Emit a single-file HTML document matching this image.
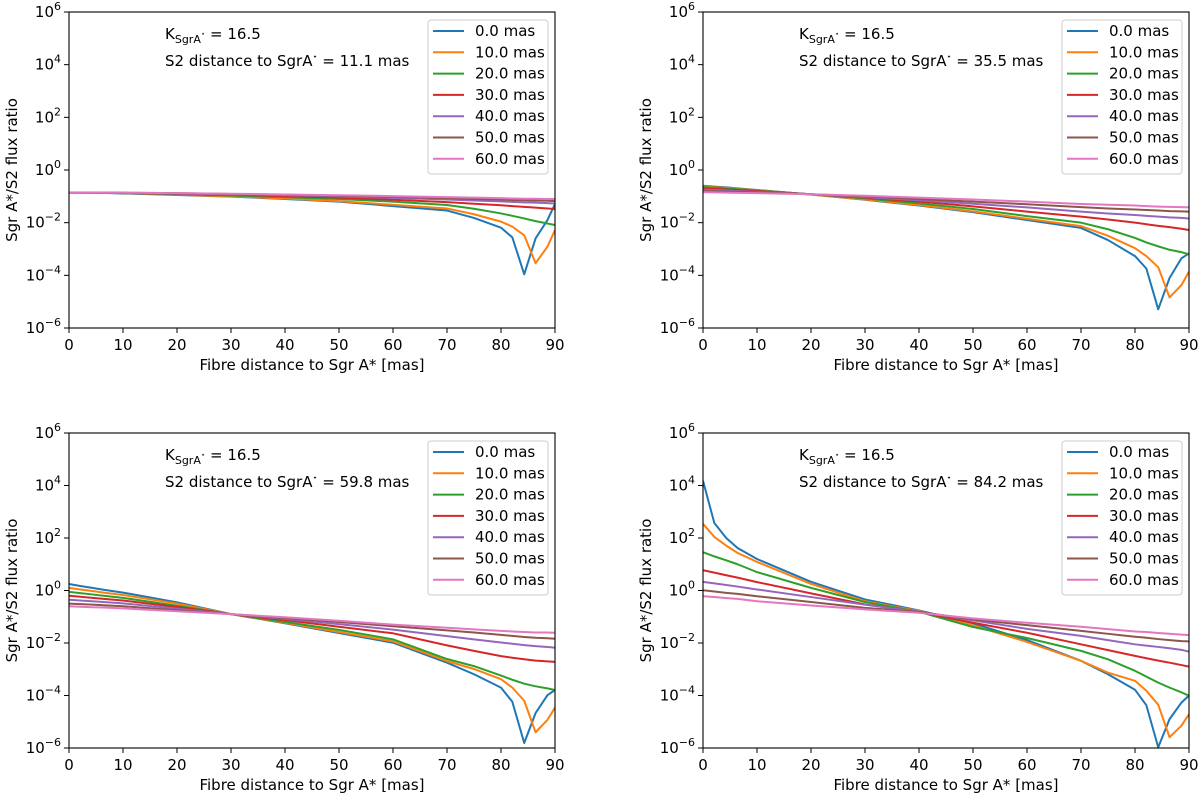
<!DOCTYPE html>
<html><head><meta charset="utf-8"><style>
body{margin:0;background:#fff;}
svg{display:block;font-family:"DejaVu Sans","Liberation Sans",sans-serif;}
</style></head><body>
<svg id="fig" width="1200" height="796" viewBox="0 0 1200 796" xmlns="http://www.w3.org/2000/svg"></svg>
<script>
const fibreDistance = [0,2.1,4.3,6.4,10,20,30,40,50,60,70,75,80,82.1,84.3,86.4,88.6,90];
const seriesLabels = ["0.0 mas","10.0 mas","20.0 mas","30.0 mas","40.0 mas","50.0 mas","60.0 mas"];
const s2Distances = ["11.1","35.5","59.8","84.2"];
const xTicks = [0,10,20,30,40,50,60,70,80,90];
const yTickExps = [6,4,2,0,-2,-4,-6];
// log10 of flux ratio, panel 1 (S2 at 11.1 mas)
const p1_s0 = [-0.86,-0.86,-0.87,-0.87,-0.89,-0.95,-1.01,-1.1,-1.2,-1.37,-1.54,-1.82,-2.19,-2.56,-3.96,-2.6,-1.9,-1.29];
const p1_s1 = [-0.86,-0.86,-0.87,-0.87,-0.88,-0.94,-1.0,-1.08,-1.18,-1.32,-1.46,-1.68,-1.96,-2.15,-2.48,-3.54,-2.91,-2.28];
const p1_s2 = [-0.86,-0.86,-0.86,-0.87,-0.88,-0.92,-0.97,-1.03,-1.1,-1.2,-1.33,-1.47,-1.65,-1.74,-1.84,-1.94,-2.03,-2.09];
const p1_s3 = [-0.86,-0.86,-0.86,-0.86,-0.87,-0.9,-0.94,-0.99,-1.05,-1.13,-1.22,-1.28,-1.34,-1.37,-1.4,-1.43,-1.46,-1.48];
const p1_s4 = [-0.86,-0.86,-0.86,-0.86,-0.87,-0.89,-0.92,-0.96,-1.0,-1.06,-1.12,-1.16,-1.19,-1.21,-1.23,-1.24,-1.26,-1.27];
const p1_s5 = [-0.86,-0.86,-0.86,-0.86,-0.86,-0.88,-0.91,-0.94,-0.98,-1.02,-1.07,-1.1,-1.12,-1.14,-1.15,-1.16,-1.17,-1.18];
const p1_s6 = [-0.86,-0.86,-0.86,-0.86,-0.86,-0.88,-0.9,-0.93,-0.96,-0.99,-1.03,-1.05,-1.07,-1.08,-1.09,-1.09,-1.1,-1.1];
// panel 2 (35.5 mas)
const p2_s0 = [-0.6,-0.63,-0.66,-0.7,-0.76,-0.93,-1.13,-1.35,-1.6,-1.9,-2.2,-2.66,-3.27,-3.74,-5.29,-4.1,-3.35,-3.17];
const p2_s1 = [-0.62,-0.65,-0.68,-0.71,-0.77,-0.93,-1.12,-1.33,-1.57,-1.85,-2.13,-2.5,-2.97,-3.27,-3.69,-4.84,-4.37,-3.86];
const p2_s2 = [-0.65,-0.67,-0.7,-0.73,-0.78,-0.92,-1.08,-1.27,-1.48,-1.75,-2.0,-2.25,-2.58,-2.75,-2.9,-3.03,-3.12,-3.2];
const p2_s3 = [-0.7,-0.72,-0.74,-0.76,-0.8,-0.92,-1.05,-1.2,-1.38,-1.58,-1.77,-1.88,-2.0,-2.06,-2.12,-2.17,-2.23,-2.28];
const p2_s4 = [-0.75,-0.76,-0.78,-0.8,-0.83,-0.92,-1.03,-1.15,-1.28,-1.42,-1.58,-1.65,-1.71,-1.74,-1.77,-1.8,-1.82,-1.84];
const p2_s5 = [-0.8,-0.81,-0.82,-0.83,-0.85,-0.92,-1.0,-1.1,-1.2,-1.3,-1.41,-1.46,-1.5,-1.52,-1.54,-1.56,-1.57,-1.58];
const p2_s6 = [-0.84,-0.85,-0.86,-0.87,-0.88,-0.92,-0.98,-1.05,-1.12,-1.2,-1.29,-1.32,-1.35,-1.37,-1.39,-1.4,-1.41,-1.42];
// panel 3 (59.8 mas)
const p3_s0 = [0.25,0.17,0.1,0.03,-0.08,-0.45,-0.9,-1.25,-1.62,-1.99,-2.75,-3.19,-3.7,-4.24,-5.81,-4.67,-3.99,-3.79];
const p3_s1 = [0.1,0.04,-0.02,-0.08,-0.17,-0.5,-0.9,-1.23,-1.58,-1.94,-2.69,-2.99,-3.38,-3.7,-4.2,-5.4,-4.93,-4.46];
const p3_s2 = [-0.05,-0.1,-0.15,-0.2,-0.28,-0.58,-0.9,-1.2,-1.5,-1.86,-2.61,-2.88,-3.24,-3.4,-3.55,-3.65,-3.73,-3.79];
const p3_s3 = [-0.2,-0.24,-0.28,-0.32,-0.38,-0.63,-0.9,-1.13,-1.38,-1.63,-2.09,-2.3,-2.5,-2.56,-2.62,-2.67,-2.7,-2.72];
const p3_s4 = [-0.35,-0.38,-0.41,-0.44,-0.49,-0.69,-0.9,-1.08,-1.28,-1.49,-1.74,-1.86,-1.98,-2.03,-2.08,-2.12,-2.15,-2.18];
const p3_s5 = [-0.5,-0.52,-0.54,-0.56,-0.6,-0.75,-0.9,-1.05,-1.2,-1.36,-1.52,-1.6,-1.69,-1.73,-1.77,-1.8,-1.82,-1.84];
const p3_s6 = [-0.6,-0.62,-0.64,-0.65,-0.68,-0.79,-0.9,-1.02,-1.15,-1.3,-1.42,-1.48,-1.54,-1.56,-1.58,-1.6,-1.6,-1.61];
// panel 4 (84.2 mas)
const p4_s0 = [4.18,2.57,2.0,1.62,1.2,0.33,-0.34,-0.76,-1.25,-1.89,-2.68,-3.19,-3.78,-4.37,-5.97,-4.9,-4.27,-4.0];
const p4_s1 = [2.54,2.04,1.71,1.43,1.09,0.25,-0.41,-0.78,-1.33,-1.96,-2.68,-3.13,-3.44,-3.82,-4.35,-5.59,-5.15,-4.71];
const p4_s2 = [1.46,1.3,1.15,1.0,0.7,0.1,-0.44,-0.81,-1.39,-1.81,-2.3,-2.62,-3.06,-3.28,-3.51,-3.7,-3.88,-4.01];
const p4_s3 = [0.77,0.68,0.58,0.49,0.32,-0.11,-0.53,-0.82,-1.23,-1.61,-2.05,-2.27,-2.49,-2.58,-2.67,-2.75,-2.84,-2.9];
const p4_s4 = [0.33,0.27,0.21,0.15,0.04,-0.25,-0.54,-0.81,-1.14,-1.46,-1.73,-1.89,-2.05,-2.1,-2.15,-2.2,-2.26,-2.33];
const p4_s5 = [0.01,-0.04,-0.09,-0.13,-0.22,-0.44,-0.66,-0.82,-1.1,-1.32,-1.54,-1.65,-1.76,-1.8,-1.85,-1.89,-1.93,-1.94];
const p4_s6 = [-0.22,-0.25,-0.29,-0.32,-0.41,-0.57,-0.72,-0.85,-1.06,-1.23,-1.38,-1.47,-1.56,-1.58,-1.62,-1.65,-1.68,-1.7];

const panelSeries = [
 [p1_s0,p1_s1,p1_s2,p1_s3,p1_s4,p1_s5,p1_s6],
 [p2_s0,p2_s1,p2_s2,p2_s3,p2_s4,p2_s5,p2_s6],
 [p3_s0,p3_s1,p3_s2,p3_s3,p3_s4,p3_s5,p3_s6],
 [p4_s0,p4_s1,p4_s2,p4_s3,p4_s4,p4_s5,p4_s6]];
const colors = ["#1f77b4","#ff7f0e","#2ca02c","#d62728","#9467bd","#8c564b","#e377c2"];
const boxes = [{x0:69,x1:555,y0:12,y1:328},{x0:703,x1:1189,y0:12,y1:328},{x0:69,x1:555,y0:433,y1:748},{x0:703,x1:1189,y0:433,y1:748}];
const NS="http://www.w3.org/2000/svg";
const svg=document.getElementById('fig');
function mk(tag,attrs,parent){const e=document.createElementNS(NS,tag);for(const k in attrs)e.setAttribute(k,attrs[k]);(parent||svg).appendChild(e);return e;}

boxes.forEach((b,pi)=>{
  const g=mk('g',{});
  
  
  const xs=v=>b.x0+(v/90)*(b.x1-b.x0);
  const ys=v=>{const L=Math.log10(v);return b.y0+(6-L)/12*(b.y1-b.y0);};
  const clip=mk('clipPath',{id:'clip'+pi},g);
  mk('rect',{x:b.x0,y:b.y0,width:b.x1-b.x0,height:b.y1-b.y0},clip);
  panelSeries[pi].forEach((arr,si)=>{
    const d=arr.map((L,i)=>(i?'L':'M')+xs(fibreDistance[i]).toFixed(2)+' '+ys(Math.pow(10,L)).toFixed(2)).join(' ');
    const p=mk('path',{d:d,fill:'none',stroke:colors[si],'stroke-width':2,'stroke-linejoin':'round','clip-path':'url(#clip'+pi+')'},g);
    
    
  });
  const fr=mk('rect',{x:b.x0,y:b.y0,width:b.x1-b.x0,height:b.y1-b.y0,fill:'none',stroke:'#000','stroke-width':1.1},g);
  
  
  xTicks.forEach(t=>{
    const x=xs(t);
    mk('line',{x1:x,x2:x,y1:b.y1,y2:b.y1+5,stroke:'#000','stroke-width':1},g);
    const tx=mk('text',{x:x,y:b.y1+22,'font-size':15,'text-anchor':'middle',fill:'#000'},g);
    tx.textContent=t;
    
    
  });
  yTickExps.forEach(e=>{
    const y=ys(Math.pow(10,e));
    mk('line',{x1:b.x0-5,x2:b.x0,y1:y,y2:y,stroke:'#000','stroke-width':1},g);
    const tx=mk('text',{x:b.x0-8,y:y+5,'font-size':15,'text-anchor':'end',fill:'#000'},g);
    const t1=mk('tspan',{},tx);t1.textContent='10';
    const t2=mk('tspan',{'font-size':11,dy:-7},tx);t2.textContent=(e<0?'\u2212':'')+Math.abs(e);
    
    
  });
  const xl=mk('text',{x:(b.x0+b.x1)/2,y:b.y1+42,'font-size':15,'text-anchor':'middle',fill:'#000'},g);
  xl.textContent='Fibre distance to Sgr A* [mas]';
  
  
  const yx=b.x0-52, yc=(b.y0+b.y1)/2;
  const yl=mk('text',{x:yx,y:yc,'font-size':15,'text-anchor':'middle',fill:'#000',transform:'rotate(-90 '+yx+' '+yc+')'},g);
  yl.textContent='Sgr A*/S2 flux ratio';
  
  
  const a1=mk('text',{x:b.x0+96,y:b.y0+27,'font-size':15,fill:'#000'},g);
  const k1=mk('tspan',{},a1);k1.textContent='K';
  const k2=mk('tspan',{'font-size':11,dy:4},a1);k2.textContent='SgrA';
  const k3=mk('tspan',{'font-size':7,dy:-7},a1);k3.textContent='\u22c6';
  const k4=mk('tspan',{dy:3},a1);k4.textContent=' = 16.5';
  
  
  const a2=mk('text',{x:b.x0+96,y:b.y0+54,'font-size':15,fill:'#000'},g);
  const m1=mk('tspan',{},a2);m1.textContent='S2 distance to SgrA';
  const m2=mk('tspan',{'font-size':8,dy:-7},a2);m2.textContent='\u22c6';
  const m3=mk('tspan',{dy:7},a2);m3.textContent=' = '+s2Distances[pi]+' mas';
  
  
  const lg=mk('g',{},g);
  
  
  const lx=b.x1-127, ly=b.y0+8;
  mk('rect',{x:lx,y:ly,width:120,height:154,rx:3,fill:'#fff','fill-opacity':0.8,stroke:'#ccc','stroke-width':1},lg);
  seriesLabels.forEach((lab,si)=>{
    const y=ly+11+si*21.3;
    const en=mk('g',{},lg);
    
    
    mk('line',{x1:lx+5,x2:lx+36,y1:y,y2:y,stroke:colors[si],'stroke-width':2},en);
    const t=mk('text',{x:lx+47,y:y+5,'font-size':15,fill:'#000'},en);
    t.textContent=lab;
  });
});
</script>
</body></html>
